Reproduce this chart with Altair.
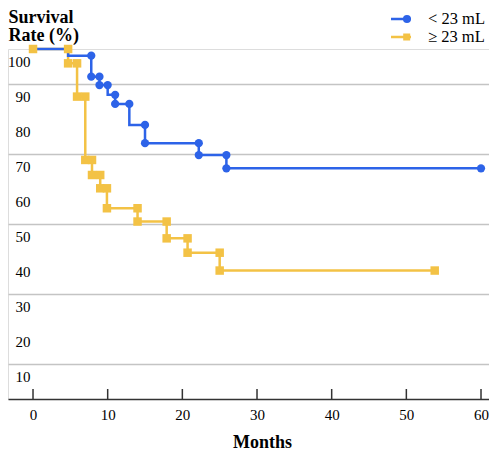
import altair as alt
import pandas as pd

BLUE_NAME = "< 23 mL"
ORANGE_NAME = "≥ 23 mL"
BLUE = "#2d63e8"
ORANGE = "#f3c245"

# Kaplan-Meier step curves (month, survival %)
blue_month = [0, 4.7, 7.8, 8.9, 10.0, 11.0, 12.9, 15.0, 22.2, 25.9, 60]
blue_surv = [100, 98.1, 92.1, 89.7, 86.9, 84.3, 78.3, 73.1, 69.7, 65.9, 65.9]

orange_month = [0, 4.7, 5.9, 7.0, 7.9, 9.0, 9.9, 14.0, 17.9, 20.7, 25.0, 53.8]
orange_surv = [100, 95.9, 86.4, 68.3, 64.0, 60.2, 54.5, 50.7, 45.9, 41.8, 36.7, 36.7]

# Markers
blue_mark_month = [7.8, 7.8, 8.9, 8.9, 10.0, 11.0, 11.0, 12.9, 15.0, 15.0, 22.2, 22.2, 25.9, 25.9, 60]
blue_mark_surv = [98.1, 92.1, 92.1, 89.7, 89.7, 86.9, 84.3, 84.3, 78.3, 73.1, 73.1, 69.7, 69.7, 65.9, 65.9]

orange_mark_month = [0, 4.7, 4.7, 5.9, 5.9, 7.0, 7.0, 7.9, 7.9, 9.0, 9.0, 9.9, 9.9,
                     14.0, 14.0, 17.9, 17.9, 20.7, 20.7, 25.0, 25.0, 53.8]
orange_mark_surv = [100, 100, 95.9, 95.9, 86.4, 86.4, 68.3, 68.3, 64.0, 64.0, 60.2, 60.2, 54.5,
                    54.5, 50.7, 50.7, 45.9, 45.9, 41.8, 41.8, 36.7, 36.7]

x_ticks = [0, 10, 20, 30, 40, 50, 60]
y_ticks = [10, 20, 30, 40, 50, 60, 70, 80, 90, 100]

FONT = "Liberation Serif"

blue_steps = pd.DataFrame({"month": blue_month, "surv": blue_surv})
orange_steps = pd.DataFrame({"month": orange_month, "surv": orange_surv})
blue_marks = pd.DataFrame({"month": blue_mark_month, "surv": blue_mark_surv})
orange_marks = pd.DataFrame({"month": orange_mark_month, "surv": orange_mark_surv})
legend_df = pd.DataFrame({"series": [BLUE_NAME, ORANGE_NAME], "month": [0, 0], "surv": [0, 0]})
ticks_df = pd.DataFrame({"month": x_ticks})
ylab_df = pd.DataFrame({"surv": y_ticks, "label": [str(v) for v in y_ticks]})

W, H = 481, 350

x_scale = alt.Scale(domain=[-3.35, 61.07], nice=False, zero=False)
y_scale = alt.Scale(domain=[0, 100], nice=False)

x_enc = alt.X("month:Q", scale=x_scale,
              axis=alt.Axis(values=x_ticks, title="Months", grid=False, ticks=False, tickSize=0,
                            labelFont=FONT, labelFontSize=15, labelColor="black", labelPadding=8,
                            labelOverlap=False,
                            domainColor="#333333", domainWidth=1.5,
                            titleFont=FONT, titleFontSize=18, titleFontWeight="bold", titleColor="black",
                            titleX=254, titleY=48, titleBaseline="alphabetic", titleAlign="center"))
y_enc = alt.Y("surv:Q", scale=y_scale,
              axis=alt.Axis(values=y_ticks, grid=True, gridColor="#c4c4c4", gridWidth=1.3,
                            domain=False, ticks=False, tickSize=0, labels=False,
                            title=["Survival", "Rate (%)"], titleAngle=0, titleAlign="left",
                            titleBaseline="top", titleX=0, titleY=-41, titleFont=FONT, titleFontSize=18,
                            titleFontWeight="bold", titleColor="black", titleLineHeight=18.5))

orange_line = alt.Chart(orange_steps).mark_line(interpolate="step-after", strokeWidth=2.5, color=ORANGE).encode(
    x=x_enc, y=y_enc)
blue_line = alt.Chart(blue_steps).mark_line(interpolate="step-after", strokeWidth=2.5, color=BLUE).encode(
    x="month:Q", y="surv:Q")
orange_pts = alt.Chart(orange_marks).mark_point(filled=True, opacity=1, size=72, shape="square",
                                                color=ORANGE).encode(x="month:Q", y="surv:Q")
blue_pts = alt.Chart(blue_marks).mark_point(filled=True, opacity=1, size=68, shape="circle",
                                            color=BLUE).encode(x="month:Q", y="surv:Q")

y_labels = alt.Chart(ylab_df).mark_text(font=FONT, fontSize=15, color="black", align="right",
                                        baseline="middle", dy=13).encode(
    x=alt.value(22.5), y="surv:Q", text="label:N")


def circles(cx, radii):
    return "".join(f"M{cx + r:.3f},0A{r},{r},0,1,1,{cx - r:.3f},0A{r},{r},0,1,1,{cx + r:.3f},0Z" for r in radii)


def squares(cx, halves):
    return "".join(f"M{cx - h:.3f},{-h}H{cx + h:.3f}V{h}H{cx - h:.3f}Z" for h in halves)


path_b = "M-1.29,0H1.29" + circles(0.77, [0.12, 0.26, 0.36])
path_o = "M-1.29,0H1.29" + squares(0.735, [0.1, 0.29])

legend = alt.Legend(
    title=None, orient="none", legendX=384, legendY=-39,
    labelFont=FONT, labelFontSize=16.5, labelColor="black", labelOffset=18,
    symbolSize=240, symbolStrokeWidth=2.5, rowPadding=0, padding=0,
)

legend_layer = alt.Chart(legend_df).mark_point(filled=False, opacity=1, strokeWidth=2.5).encode(
    x="month:Q", y="surv:Q",
    color=alt.Color("series:N", scale=alt.Scale(domain=[BLUE_NAME, ORANGE_NAME], range=[BLUE, ORANGE]),
                    legend=legend),
    shape=alt.Shape("series:N", scale=alt.Scale(domain=[BLUE_NAME, ORANGE_NAME], range=[path_b, path_o]),
                    legend=legend),
).transform_filter("false")

tick_rules = alt.Chart(ticks_df).mark_rule(color="#333333", strokeWidth=1.5).encode(
    x="month:Q", y=alt.value(H), y2=alt.value(H - 10))

chart = alt.layer(orange_line, blue_line, orange_pts, blue_pts, tick_rules, y_labels, legend_layer).properties(
    width=W, height=H,
    padding={"left": 0, "top": 0, "right": 0, "bottom": 0},
).configure_view(stroke=None).configure(background="white")

chart.save("out.html", embed_options={"renderer": "svg", "actions": False})
